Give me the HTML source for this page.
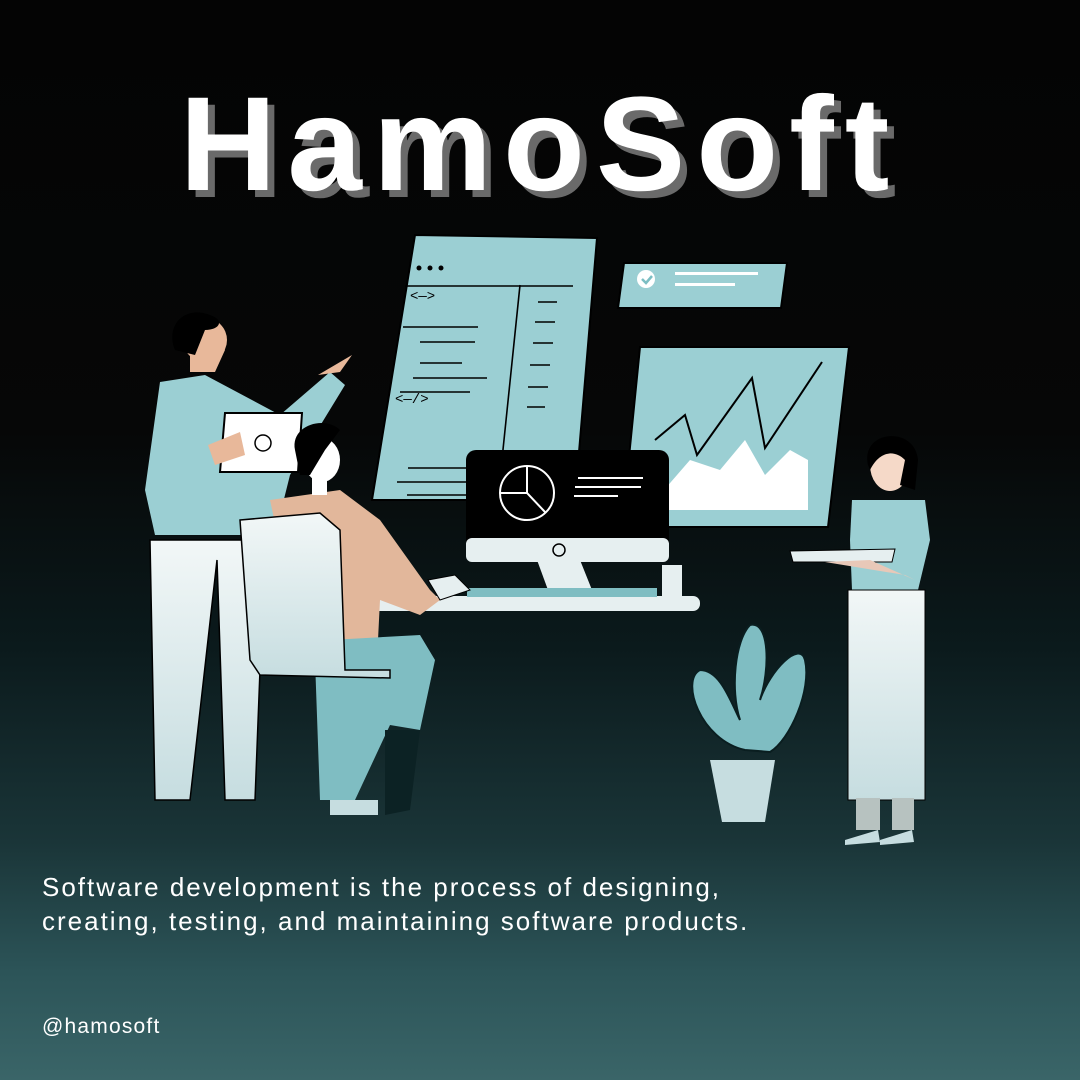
<!DOCTYPE html>
<html><head><meta charset="utf-8"><style>
html,body{margin:0;padding:0}
body{width:1080px;height:1080px;overflow:hidden;position:relative;background:linear-gradient(180deg,#040404 0%,#060707 40%,#0b1a1c 60%,#1a3538 78%,#2c5458 90%,#3a6568 100%);font-family:"Liberation Sans",sans-serif}
.t{position:absolute;left:0;width:1080px;text-align:center;top:78px;font-size:134px;font-weight:bold;letter-spacing:11px;color:#fff;text-shadow:7px 7px 0 #6a6a6a;line-height:1}
.p{position:absolute;left:42px;top:870px;color:#fff;font-size:26px;line-height:34px;letter-spacing:2px}
.h{position:absolute;left:42px;top:1015px;color:#fff;font-size:21px;letter-spacing:1.2px}
svg{position:absolute;left:0;top:0}
</style></head><body>
<div class="t">HamoSoft</div>
<svg width="1080" height="1080" viewBox="0 0 1080 1080">
<defs><linearGradient id="w" x1="0" y1="0" x2="0" y2="1"><stop offset="0" stop-color="#f2f7f7"/><stop offset="1" stop-color="#c6dde0"/></linearGradient></defs>
<g stroke="#000" stroke-width="2">
<polygon points="415,235 597,238 575,500 372,500" fill="#9bcfd3"/>
<polygon points="640,347 849,347 828,527 622,527" fill="#9bcfd3"/>
<polygon points="624,263 787,263 781,308 618,308" fill="#9bcfd3"/>
</g>
<path d="M664,490 L690,460 L720,470 L745,440 L765,475 L790,450 L808,460 L808,510 L660,510Z" fill="#fff"/>
<polyline points="655,440 685,415 697,455 752,378 765,448 822,362" fill="none" stroke="#000" stroke-width="2"/>
<circle cx="646" cy="279" r="9" fill="#fff"/>
<path d="M642,279 l4,4 6,-7" stroke="#7cbec3" stroke-width="2.5" fill="none"/>
<rect x="675" y="272" width="83" height="3" fill="#fff"/><rect x="675" y="283" width="60" height="3" fill="#fff"/>
<g stroke="#000" stroke-width="1.6" fill="none">
<line x1="403" y1="327" x2="478" y2="327"/>
<line x1="420" y1="342" x2="475" y2="342"/><line x1="420" y1="363" x2="462" y2="363"/>
<line x1="413" y1="378" x2="487" y2="378"/><line x1="400" y1="392" x2="470" y2="392"/>
<line x1="408" y1="468" x2="483" y2="468"/><line x1="397" y1="482" x2="480" y2="482"/>
<line x1="407" y1="495" x2="482" y2="495"/>
<line x1="520" y1="285" x2="498" y2="498"/><line x1="405" y1="286" x2="573" y2="286"/>
<line x1="538" y1="302" x2="557" y2="302"/><line x1="535" y1="322" x2="555" y2="322"/>
<line x1="533" y1="343" x2="553" y2="343"/><line x1="530" y1="365" x2="550" y2="365"/>
<line x1="528" y1="387" x2="548" y2="387"/><line x1="527" y1="407" x2="545" y2="407"/>
</g>
<circle cx="419" cy="268" r="2.5"/><circle cx="430" cy="268" r="2.5"/><circle cx="441" cy="268" r="2.5"/>
<text x="395" y="403" font-size="14" font-family="Liberation Mono">&lt;—/&gt;</text>
<text x="410" y="300" font-size="14" font-family="Liberation Mono">&lt;—&gt;</text>
<rect x="370" y="596" width="330" height="15" rx="7" fill="#e6eff0"/>
<polygon points="537,560 580,560 592,590 548,590" fill="#e6eff0"/>
<rect x="466" y="450" width="203" height="112" rx="10" fill="#000"/>
<rect x="466" y="538" width="203" height="24" rx="6" fill="#e6eff0"/>
<circle cx="559" cy="550" r="6" fill="none" stroke="#000" stroke-width="1.5"/>
<circle cx="527" cy="493" r="27" fill="none" stroke="#fff" stroke-width="2"/>
<path d="M527,466 V493 L545,512 M500,493 H527" stroke="#fff" stroke-width="2" fill="none"/>
<g stroke="#fff" stroke-width="2"><line x1="578" y1="478" x2="643" y2="478"/><line x1="575" y1="487" x2="641" y2="487"/><line x1="574" y1="496" x2="618" y2="496"/></g>
<rect x="467" y="588" width="190" height="9" fill="#7fbdc2"/>
<rect x="662" y="565" width="20" height="32" fill="#e6eff0"/>
<path d="M150,540 L265,540 L255,800 L225,800 L217,560 L190,800 L155,800Z" fill="url(#w)" stroke="#000" stroke-width="1.5"/>
<path d="M160,382 L205,375 L280,415 L330,372 L345,385 L290,475 L275,535 L155,535 L145,490 Z" fill="#9bcfd3"/>
<path d="M318,375 L352,355 L340,372" fill="#e8b89a"/>
<path d="M190,372 L190,340 L215,330 L225,350 L215,372Z" fill="#e8b89a"/>
<circle cx="205" cy="340" r="22" fill="#e8b89a"/>
<path d="M175,350 C165,325 185,305 210,315 C225,320 220,330 205,330 L195,355Z" fill="#000"/>
<polygon points="225,413 302,413 298,472 220,472" fill="#fff" stroke="#000" stroke-width="2"/>
<circle cx="263" cy="443" r="8" fill="none" stroke="#000" stroke-width="1.5"/>
<path d="M208,445 L240,432 L245,455 L215,465Z" fill="#e8b89a"/>
<path d="M270,500 L340,490 L380,520 L430,590 L440,600 L420,615 L380,600 L378,640 L300,640Z" fill="#e2b79b"/>
<path d="M330,640 L420,635 L435,660 L420,730 L390,725 L355,800 L320,800 L315,660Z" fill="#7fbdc2"/>
<path d="M385,730 L420,730 L410,810 L385,815Z" fill="#0c2224"/>
<path d="M240,520 L320,513 L340,530 L345,670 L390,670 L390,678 L260,675 L250,660Z" fill="url(#w)" stroke="#000" stroke-width="1.5"/>
<rect x="330" y="800" width="48" height="15" fill="#c6dde0"/>
<path d="M428,580 L455,575 L470,590 L440,600Z" fill="#e6eff0" stroke="#000"/>
<ellipse cx="322" cy="460" rx="18" ry="22" fill="#fff"/>
<path d="M295,450 C290,425 325,415 340,430 L325,450 L310,475 L300,475Z" fill="#000"/>
<rect x="312" y="475" width="15" height="20" fill="#fff"/>
<path d="M852,500 L925,500 L930,540 L918,590 L852,590 L850,540Z" fill="#9bcfd3"/>
<path d="M848,590 L925,590 L925,800 L848,800Z" fill="url(#w)" stroke="#000" stroke-width="1"/>
<rect x="856" y="798" width="24" height="32" fill="#b7c2c0"/><rect x="892" y="798" width="22" height="32" fill="#b7c2c0"/>
<path d="M845,840 L878,830 L880,842 L845,845Z M880,840 L912,830 L914,842 L880,845Z" fill="#c6dde0"/>
<ellipse cx="890" cy="465" rx="20" ry="26" fill="#f5d9c8"/>
<path d="M868,465 C860,430 915,425 918,460 L915,490 L900,485 L905,460 C895,450 880,450 870,470Z" fill="#000"/>
<polygon points="790,551 895,549 892,562 793,562" fill="#e6eff0" stroke="#000"/>
<path d="M825,562 L870,560 L915,580 L905,575Z" fill="#e8c8b8"/>
<path d="M745,750 C700,740 680,680 700,670 C720,670 730,700 740,720 C730,690 735,640 750,625 C770,620 770,670 760,700 C770,670 800,640 805,660 C812,690 790,740 770,752Z" fill="#7fbdc2" stroke="#0a1e20" stroke-width="2"/>
<polygon points="710,760 775,760 765,822 722,822" fill="#c6dde0"/>
</svg>
<div class="p">Software development is the process of designing,<br>creating, testing, and maintaining software products.</div>
<div class="h">@hamosoft</div>
</body></html>
